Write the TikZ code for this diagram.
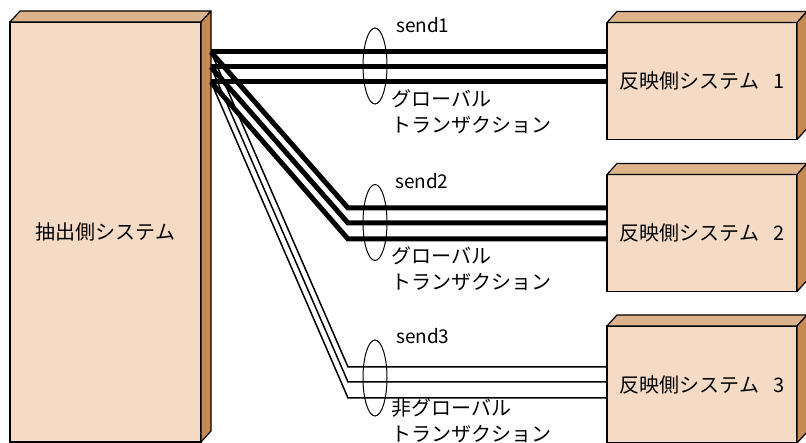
\documentclass[tikz,border=0pt]{standalone}
\usepackage{fontspec}
\usepackage{tikz}
\newfontfamily\jpfont{Noto Sans CJK JP}
\usetikzlibrary{calc,shapes.geometric}
\definecolor{Face}{HTML}{F5DBC5}
\definecolor{Lid}{HTML}{DDB38B}
\definecolor{Flank}{HTML}{C48A52}

\begin{document}
\begin{tikzpicture}[
  x=1pt,y=-1pt,
  font=\jpfont\fontsize{20}{26}\selectfont,
  front/.style={draw=black,fill=Face,line width=1.2pt,outer sep=0pt,inner sep=0pt,minimum width=190pt,minimum height=117pt},
  lid/.style={draw=black,fill=Lid,line width=1.2pt,line join=round},
  flank/.style={draw=black,fill=Flank,line width=1.2pt,line join=round},
  bundle/.style={ellipse,draw=black,line width=1pt,inner sep=0pt,minimum width=24pt,minimum height=76pt},
  thickline/.style={draw=black,line width=5pt},
  thinline/.style={draw=black,line width=1.5pt},
  lbl/.style={anchor=west,inner sep=0pt,align=left},
  sendlbl/.style={lbl,font=\jpfont\fontsize{19}{24}\selectfont}
]
\useasboundingbox (0,0) rectangle (806,443);
% systems
\node[front,minimum width=191pt,minimum height=420pt] (src) at (105.5,232) {抽出側システム};
\node[front] (dst1) at (702,81) {反映側システム\hspace{0.7em}1};
\node[front] (dst2) at (702,233) {反映側システム\hspace{0.7em}2};
\node[front] (dst3) at (702,384.5) {反映側システム\hspace{0.7em}3};
\foreach \b in {src,dst1,dst2,dst3} {
  \draw[lid] (\b.north west) -- ++(10,-11) -- ($(\b.north east)+(10,-11)$) -- (\b.north east) -- cycle;
  \draw[flank] (\b.north east) -- ++(10,-11) -- ($(\b.south east)+(10,-11)$) -- (\b.south east) -- cycle;
}
% ports and bends
\coordinate (p1) at (211,52);
\coordinate (p2) at (211,67);
\coordinate (p3) at (211,82);
\coordinate (k21) at (348,208);
\coordinate (k22) at (348,223);
\coordinate (k23) at (348,239);
\coordinate (k31) at (348,367);
\coordinate (k32) at (348,382);
\coordinate (k33) at (348,398);
% send lines
\foreach \i in {1,2,3} {
  \draw[thickline] (p\i) -- (p\i -| dst1.west);
  \draw[thickline] (p\i) -- (k2\i) -- (k2\i -| dst2.west);
  \draw[thinline] (p\i) -- (k3\i) -- (k3\i -| dst3.west);
}
% bundles
\node[bundle] (e1) at (375,66) {};
\node[bundle] (e2) at (375,222.5) {};
\node[bundle] (e3) at (375,378) {};
\node[sendlbl] (s1) at (396,25) {send1};
\node[sendlbl] (s2) at (395,181) {send2};
\node[sendlbl] (s3) at (396,336) {send3};
\node[lbl] (g1) at (391,111.5) {グローバル\\トランザクション};
\node[lbl] (g2) at (391,268.5) {グローバル\\トランザクション};
\node[lbl] (g3) at (391,421) {非グローバル\\トランザクション};
\end{tikzpicture}
\end{document}
